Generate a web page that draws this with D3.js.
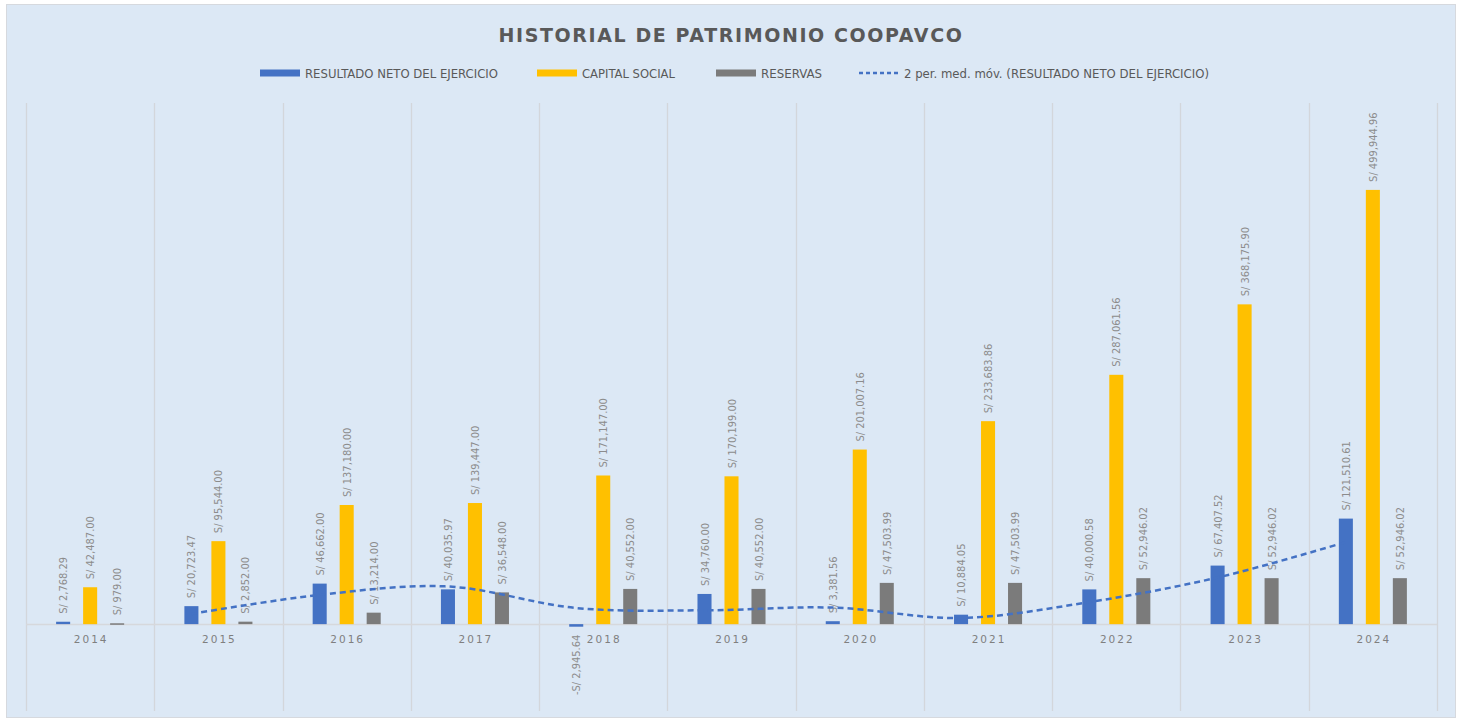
<!DOCTYPE html>
<html>
<head>
<meta charset="utf-8">
<script src="https://cdn.jsdelivr.net/npm/d3@7"></script>
<style>
  html, body { margin: 0; padding: 0; background: #ffffff; }
  svg { display: block; font-family: "Liberation Sans Narrow", "DejaVu Sans Condensed", "Liberation Sans", sans-serif; }
</style>
</head>
<body>
<div id="chart"></div>
<script>
// values
var years = ['2014','2015','2016','2017','2018','2019','2020','2021','2022','2023','2024'];
var resultado = [2768.29, 20723.47, 46662.00, 40035.97, -2945.64, 34760.00, 3381.56, 10884.05, 40000.58, 67407.52, 121510.61];
var capital = [42487.00, 95544.00, 137180.00, 139447.00, 171147.00, 170199.00, 201007.16, 233683.86, 287061.56, 368175.90, 499944.96];
var reservas = [979.00, 2852.00, 13214.00, 36548.00, 40552.00, 40552.00, 47503.99, 47503.99, 52946.02, 52946.02, 52946.02];
var seriesNames = ['RESULTADO NETO DEL EJERCICIO', 'CAPITAL SOCIAL', 'RESERVAS'];
var seriesColors = ['#4472c4', '#ffc000', '#7b7b7b'];
var maName = '2 per. med. móv. (RESULTADO NETO DEL EJERCICIO)';

var W = 1461, H = 722;
var svg = d3.select('#chart').append('svg').attr('width', W).attr('height', H);

// chart frame
svg.append('rect').attr('x', 6.5).attr('y', 4.5).attr('width', 1449).attr('height', 713)
  .attr('fill', '#dce8f5').attr('stroke', '#d6d9de');

var plot = { left: 26, right: 1437, top: 103, bottom: 711 };

var x = d3.scaleBand().domain(years).range([plot.left, plot.right]).padding(0);
var bw = x.bandwidth();
var x1 = d3.scaleBand().domain(d3.range(3)).range([bw / 2 - 40.5, bw / 2 + 40.5])
  .paddingInner(0.48).paddingOuter(0.24);
var y = d3.scaleLinear().domain([-100000, 600000]).range([plot.bottom, plot.top]);

// vertical category separators
svg.append('g').selectAll('line').data(d3.range(years.length + 1)).enter().append('line')
  .attr('x1', function(i) { return Math.round(plot.left + i * bw) + 0.5; })
  .attr('x2', function(i) { return Math.round(plot.left + i * bw) + 0.5; })
  .attr('y1', plot.top).attr('y2', plot.bottom)
  .attr('stroke', '#d3d6db').attr('stroke-width', 1.3);

// zero line
svg.append('line').attr('x1', plot.left).attr('x2', plot.right)
  .attr('y1', Math.round(y(0)) + 0.5).attr('y2', Math.round(y(0)) + 0.5)
  .attr('stroke', '#d6d8dc').attr('stroke-width', 1.5);

// category labels
svg.append('g').selectAll('text').data(years).enter().append('text')
  .attr('x', function(d) { return x(d) + bw / 2 + 1; })
  .attr('y', y(0) + 19)
  .attr('text-anchor', 'middle')
  .attr('font-family', 'DejaVu Sans, sans-serif')
  .attr('font-size', 10.5).attr('letter-spacing', 2)
  .attr('fill', '#7f7f7f')
  .text(function(d) { return d; });

var allSeries = [resultado, capital, reservas];
var fmt = d3.format(',.2f');
function money(v) { return (v < 0 ? '-S/ ' : 'S/ ') + fmt(Math.abs(v)); }

allSeries.forEach(function(vals, si) {
  var g = svg.append('g');
  g.selectAll('rect').data(vals).enter().append('rect')
    .attr('x', function(d, i) { return x(years[i]) + x1(si); })
    .attr('width', x1.bandwidth())
    .attr('y', function(d) { return y(Math.max(0, d)); })
    .attr('height', function(d) { return Math.max(1.5, Math.abs(y(d) - y(0))); })
    .attr('fill', seriesColors[si]);

  g.selectAll('text').data(vals).enter().append('text')
    .attr('transform', function(d, i) {
      var cx = x(years[i]) + x1(si) + x1.bandwidth() / 2 + 4;
      var cy = d < 0 ? y(d) + 8 : y(d) - 8;
      return 'translate(' + cx + ',' + cy + ') rotate(-90)';
    })
    .attr('text-anchor', function(d) { return d < 0 ? 'end' : 'start'; })
    .attr('font-size', 11)
    .attr('fill', '#8c8c8c')
    .text(function(d) { return money(d); });
});

// 2-period moving average of resultado
var ma = [];
for (var i = 1; i < resultado.length; i++) {
  ma.push({ year: years[i], v: d3.mean([resultado[i - 1], resultado[i]]) });
}
var line = d3.line()
  .x(function(d) { return x(d.year) + x1(0) + x1.bandwidth() / 2; })
  .y(function(d) { return y(d.v); })
  .curve(d3.curveCatmullRom.alpha(0.5));
svg.append('path').datum(ma).attr('d', line)
  .attr('fill', 'none').attr('stroke', '#4472c4')
  .attr('stroke-width', 2.5).attr('stroke-dasharray', '6,4');

// title
svg.append('text').attr('x', 731).attr('y', 42).attr('text-anchor', 'middle')
  .attr('font-family', 'DejaVu Sans, sans-serif')
  .attr('font-size', 19).attr('font-weight', 'bold').attr('letter-spacing', 1.6)
  .attr('fill', '#595959').text('HISTORIAL  DE  PATRIMONIO  COOPAVCO');

// legend
var legendItems = [
  { name: seriesNames[0], color: seriesColors[0], x: 260, w: 193 },
  { name: seriesNames[1], color: seriesColors[1], x: 537, w: 93 },
  { name: seriesNames[2], color: seriesColors[2], x: 716, w: 61 },
  { name: maName, color: '#4472c4', x: 859, w: 305, dash: true }
];
var lg = svg.append('g');
legendItems.forEach(function(it) {
  if (it.dash) {
    lg.append('line').attr('x1', it.x).attr('x2', it.x + 40).attr('y1', 73).attr('y2', 73)
      .attr('stroke', it.color).attr('stroke-width', 2.5).attr('stroke-dasharray', '4,3');
  } else {
    lg.append('rect').attr('x', it.x).attr('y', 69.5).attr('width', 40).attr('height', 7).attr('fill', it.color);
  }
  lg.append('text').attr('x', it.x + 45).attr('y', 77.5)
    .attr('font-size', 11.5).attr('fill', '#595959')
    .attr('textLength', it.w).attr('lengthAdjust', 'spacingAndGlyphs')
    .text(it.name);
});
</script>
</body>
</html>
